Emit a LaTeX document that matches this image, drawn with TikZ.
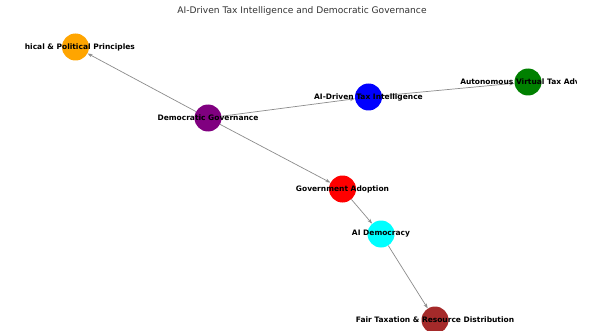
\documentclass[tikz,border=0pt]{standalone}
\usepackage{fontspec}
\setmainfont{DejaVu Sans}
\usetikzlibrary{arrows.meta}
\begin{document}
\begin{tikzpicture}[x=1pt,y=1pt,
  vert/.style={circle,draw=none,minimum size=27pt,inner sep=0pt},
  lbl/.style={font=\fontsize{7.5}{8.5}\selectfont\bfseries,text=black,inner sep=0pt},
  arr/.style={draw=gray!90,line width=0.7pt,-{Stealth[length=5pt,width=3.5pt]}},
  ttl/.style={font=\fontsize{9.1}{10}\selectfont,text=black!80,inner sep=0pt}]
\clip (0,0) rectangle (597,330);
\fill[white] (0,0) rectangle (597,330);
\node[ttl] (title) at (302,319) {AI-Driven Tax Intelligence and Democratic Governance};
% nodes
\node[vert,fill={rgb,255:red,255;green,165;blue,0}] (ora) at (75.5,283) {};
\node[vert,fill={rgb,255:red,128;green,0;blue,128}] (pur) at (208,212) {};
\node[vert,fill={rgb,255:red,0;green,0;blue,255}] (blu) at (368.5,233) {};
\node[vert,fill={rgb,255:red,0;green,128;blue,0}] (gre) at (528,248) {};
\node[vert,fill={rgb,255:red,255;green,0;blue,0}] (red) at (342.5,141) {};
\node[vert,fill={rgb,255:red,0;green,255;blue,255}] (cya) at (381,96) {};
\node[vert,fill={rgb,255:red,165;green,42;blue,42}] (bro) at (435,10) {};
% edges
\draw[arr] (pur) -- (ora);
\draw[arr] (pur) -- (blu);
\draw[arr] (blu) -- (gre);
\draw[arr] (pur) -- (red);
\draw[arr] (red) -- (cya);
\draw[arr] (cya) -- (bro);
% labels
\begin{scope}
\clip (25,0) rectangle (576,330);
\node[lbl] (lora) at (ora) {Ethical \& Political Principles};
\node[lbl] (lpur) at (pur) {Democratic Governance};
\node[lbl] (lblu) at (blu) {AI-Driven Tax Intelligence};
\node[lbl] (lgre) at (gre) {Autonomous Virtual Tax Advisor};
\node[lbl] (lred) at (red) {Government Adoption};
\node[lbl] (lcya) at (cya) {AI Democracy};
\node[lbl] (lbro) at (bro) {Fair Taxation \& Resource Distribution};
\end{scope}
\end{tikzpicture}
\end{document}
